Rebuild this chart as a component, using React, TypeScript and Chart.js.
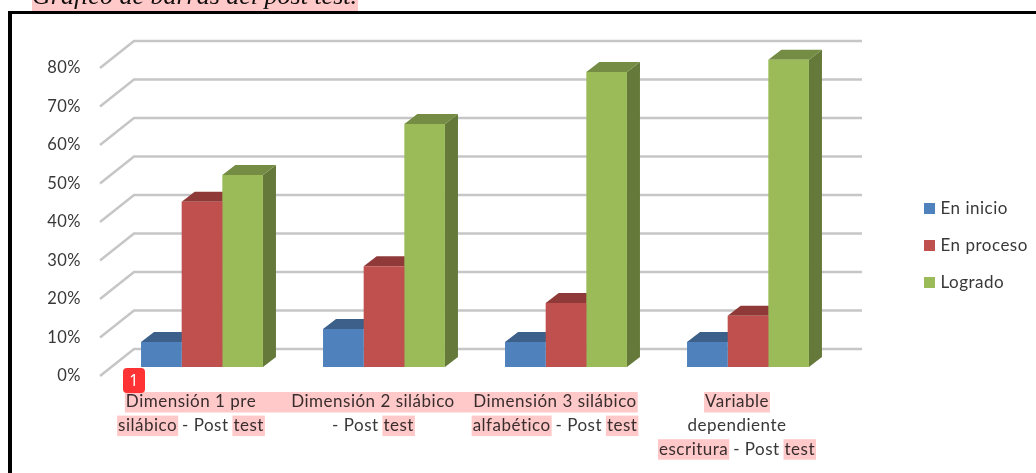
import React, { useEffect, useRef } from "react";
import { Chart, registerables } from "chart.js";

Chart.register(...registerables);

const categories = [
  ["Dimensión 1 pre", "silábico - Post test"],
  ["Dimensión 2 silábico", "- Post test"],
  ["Dimensión 3 silábico", "alfabético - Post test"],
  ["Variable", "dependiente", "escritura - Post test"],
];
const enInicio = [6.5, 9.9, 6.5, 6.5];
const enProceso = [42.9, 26.2, 16.6, 13.3];
const logrado = [49.9, 63.1, 76.6, 79.8];
const seriesNames = ["En inicio", "En proceso", "Logrado"];
const seriesFill = ["#4f81bd", "#c0504d", "#9bbb59"];
const seriesTop = ["#3c6089", "#8f3a38", "#748c43"];
const seriesSide = ["#365a85", "#853634", "#657a3a"];
const titleText = "Gráfico de barras del post test.";
const marked = [
  [["Dimensión 1 pre"], ["silábico", "test"]],
  [["Dimensión 2 silábico"], ["test"]],
  [["Dimensión 3 silábico"], ["alfabético", "test"]],
  [["Variable"], [], ["escritura", "test"]],
];

const FONT = "Lato";
const TEXT = "#383838";
const PINK = "#ffc9c9";
const SPACING = "0.5px";
const DEPTH_X = 13;
const DEPTH_Y = 10;
const WALL_X = 23;
const WALL_Y = 18;
const FLOOR_X = 11;
const FLOOR_Y = 9;
const LABEL_SHIFT = -11;

const threeD = {
  id: "threeD",
  beforeUpdate(chart: any) {
    chart.ctx.letterSpacing = SPACING;
  },
  afterLayout(chart: any) {
    const l = chart.legend;
    const w = l.width;
    const h = l.height;
    l.left = 907;
    l.right = l.left + w;
    l.top = 180;
    l.bottom = l.top + h;
  },
  beforeDraw(chart: any) {
    const { ctx, width } = chart;
    ctx.save();
    ctx.letterSpacing = "0px";
    // title cut by the top of the page
    ctx.font = "italic 26px 'Liberation Serif'";
    ctx.textBaseline = "alphabetic";
    ctx.textAlign = "left";
    ctx.fillStyle = "#111";
    ctx.fillText(titleText, 32, 4);
    ctx.globalCompositeOperation = "multiply";
    ctx.fillStyle = PINK;
    ctx.fillRect(32, 0, ctx.measureText(titleText).width + 1, 11);
    ctx.globalCompositeOperation = "source-over";
    // frame
    ctx.fillStyle = "#000";
    ctx.fillRect(8, 11, width - 8, 3);
    ctx.fillRect(8, 11, 4, 473);
    ctx.restore();
  },
  beforeDatasetsDraw(chart: any) {
    const { ctx, chartArea, scales } = chart;
    const y = scales.y;
    ctx.save();
    ctx.strokeStyle = "#c6c6c6";
    ctx.lineWidth = 2.5;
    ctx.lineJoin = "miter";
    y.ticks.forEach((t: any) => {
      const p = y.getPixelForValue(t.value);
      ctx.beginPath();
      ctx.moveTo(chartArea.left - FLOOR_X, p + FLOOR_Y);
      ctx.lineTo(chartArea.left + WALL_X, p - WALL_Y);
      ctx.lineTo(chartArea.right + WALL_X, p - WALL_Y);
      ctx.stroke();
    });
    const n = chart.data.labels.length;
    for (let i = 0; i < n; i++) {
      chart.data.datasets.forEach((_: any, d: number) => {
        const bar = chart.getDatasetMeta(d).data[i];
        const half = bar.width / 2;
        const l = bar.x - half;
        const r = bar.x + half;
        const top = bar.y;
        const base = bar.base;
        ctx.fillStyle = seriesSide[d];
        ctx.beginPath();
        ctx.moveTo(r, top);
        ctx.lineTo(r + DEPTH_X, top - DEPTH_Y);
        ctx.lineTo(r + DEPTH_X, base - DEPTH_Y);
        ctx.lineTo(r, base);
        ctx.closePath();
        ctx.fill();
        ctx.fillStyle = seriesTop[d];
        ctx.beginPath();
        ctx.moveTo(l, top);
        ctx.lineTo(l + DEPTH_X, top - DEPTH_Y);
        ctx.lineTo(r + DEPTH_X, top - DEPTH_Y);
        ctx.lineTo(r, top);
        ctx.closePath();
        ctx.fill();
      });
    }
    ctx.restore();
  },
  afterDraw(chart: any) {
    const { ctx, scales } = chart;
    const x = scales.x;
    ctx.save();
    ctx.font = `17px ${FONT}`;
    ctx.letterSpacing = SPACING;
    ctx.globalCompositeOperation = "multiply";
    ctx.fillStyle = PINK;
    const first: number[] = [];
    categories.forEach((lines, c) => {
      const cx = x.getPixelForTick(c) + LABEL_SHIFT;
      lines.forEach((line, li) => {
        const full = ctx.measureText(line).width;
        const start = cx - full / 2;
        marked[c][li].forEach((w) => {
          const off = ctx.measureText(line.slice(0, line.indexOf(w))).width;
          const ww = ctx.measureText(w).width;
          const rx = start + off - 1;
          const rw = ww + 2;
          if (li === 0 && c < 3) {
            first.push(rx, rx + rw);
          } else {
            ctx.fillRect(rx, x.top + 25 + li * 23.6, rw, 20.5);
          }
        });
      });
    });
    ctx.fillRect(first[0], x.top + 25, Math.max(...first) - first[0], 20.5);
    ctx.globalCompositeOperation = "source-over";
    // numbered marker
    ctx.fillStyle = "#ff3333";
    ctx.beginPath();
    ctx.roundRect(123, 368, 22, 25, 4);
    ctx.fill();
    ctx.fillStyle = "#fff";
    ctx.font = "16px 'Noto Sans'";
    ctx.textAlign = "center";
    ctx.textBaseline = "middle";
    ctx.fillText("1", 134, 381);
    ctx.restore();
  },
};

export default function App() {
  const ref = useRef<HTMLCanvasElement>(null);
  useEffect(() => {
    const chart = new Chart(ref.current as HTMLCanvasElement, {
      type: "bar",
      plugins: [threeD],
      data: {
        labels: categories,
        datasets: [enInicio, enProceso, logrado].map((values, i) => ({
          label: seriesNames[i],
          data: values,
          backgroundColor: seriesFill[i],
          categoryPercentage: 0.67,
          barPercentage: 1,
        })),
      },
      options: {
        responsive: false,
        animation: false,
        layout: { padding: { top: 59, right: 197, left: 0, bottom: 0 } },
        plugins: {
          title: { display: false },
          tooltip: { enabled: false },
          legend: {
            position: "chartArea" as any,
            align: "start",
            labels: {
              boxWidth: 5,
              boxHeight: 5,
              padding: 20,
              color: TEXT,
              font: { family: FONT, size: 17, lineHeight: "17px" },
              generateLabels: (c: any) =>
                c.data.datasets.map((d: any, i: number) => ({
                  text: d.label,
                  fillStyle: seriesFill[i],
                  strokeStyle: seriesFill[i],
                  lineWidth: 6,
                  fontColor: TEXT,
                  datasetIndex: i,
                })),
            },
          },
        },
        scales: {
          x: {
            grid: { display: false },
            border: { display: false },
            afterFit: (s: any) => {
              s.height = 106;
            },
            ticks: {
              autoSkip: false,
              maxRotation: 0,
              minRotation: 0,
              padding: 15,
              labelOffset: LABEL_SHIFT,
              color: TEXT,
              font: { family: FONT, size: 17, lineHeight: "24px" },
            },
          },
          y: {
            min: 0,
            max: 80,
            grid: { display: false },
            border: { display: false },
            afterFit: (s: any) => {
              s.width = 111;
            },
            ticks: {
              stepSize: 10,
              padding: 22,
              labelOffset: 9,
              color: TEXT,
              font: { family: FONT, size: 16.5 },
              callback: (v: any) => `${v}%`,
            },
          },
        },
      },
    });
    return () => chart.destroy();
  }, []);
  return (
    <canvas
      ref={ref}
      width={1036}
      height={473}
      style={{ position: "fixed", left: 0, top: 0, background: "#fff" }}
    />
  );
}
